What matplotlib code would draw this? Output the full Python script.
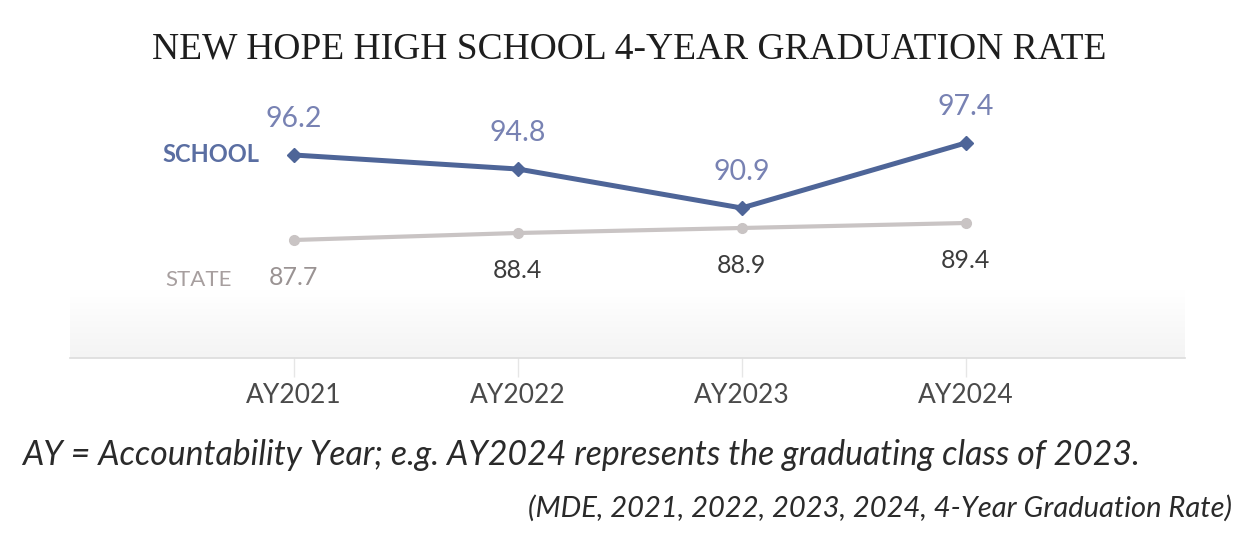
import matplotlib
matplotlib.use("Agg")
import numpy as np
import matplotlib.pyplot as plt

years = ["AY2021", "AY2022", "AY2023", "AY2024"]
school = [96.2, 94.8, 90.9, 97.4]
state = [87.7, 88.4, 88.9, 89.4]
state_label_colors = ["#9a9393", "#3c3c3c", "#3c3c3c", "#3c3c3c"]

title = "NEW HOPE HIGH SCHOOL 4-YEAR GRADUATION RATE"
note = "AY = Accountability Year; e.g. AY2024 represents the graduating class of 2023."
source = "(MDE, 2021, 2022, 2023, 2024, 4-Year Graduation Rate)"

W, H = 1257, 544
fig = plt.figure(figsize=(W / 100, H / 100), dpi=100)
fig.patch.set_facecolor("white")

left, right, top, bottom = 70, 1185, 100, 358
ax = fig.add_axes([left / W, 1 - bottom / H, (right - left) / W, (bottom - top) / H])
ax.set_facecolor("none")

# subtle gray band near bottom of plot area (white at top -> light gray at bottom)
grad = np.linspace(0.0, 1.0, 64).reshape(-1, 1)
ax.imshow(grad, extent=(0, 1, 0, 0.26), transform=ax.transAxes, aspect="auto",
          cmap=matplotlib.colors.LinearSegmentedColormap.from_list(
              "g", ["#ffffff", "#f4f4f4"]), zorder=0, interpolation="bicubic")

x = list(range(len(years)))
school_color = "#4e6598"
state_color = "#c9c4c4"

ax.plot(x, state, color=state_color, lw=3.0, marker="o", ms=7, zorder=2,
        solid_capstyle="round")
ax.plot(x, school, color=school_color, lw=3.6, marker="D", ms=7.5, zorder=3,
        solid_capstyle="round")

label_font = "Lato"
for xi, v in zip(x, school):
    ax.annotate(f"{v:.1f}", (xi, v), xytext=(0, 26), textcoords="offset points",
                ha="center", va="center", fontsize=20.5, color="#7882b3",
                family=label_font)
for xi, v, c in zip(x, state, state_label_colors):
    ax.annotate(f"{v:.1f}", (xi, v), xytext=(0, -27), textcoords="offset points",
                ha="center", va="center", fontsize=18, color=c,
                family=label_font)

ax.set_xlim(-1.0, 3.98)
ax.set_ylim(75.9, 101.7)

for s in ["top", "right", "left"]:
    ax.spines[s].set_visible(False)
ax.spines["bottom"].set_color("#dcdcdc")
ax.spines["bottom"].set_linewidth(1.2)
ax.set_yticks([])
ax.set_xticks(x)
ax.set_xticklabels(years, fontsize=19, color="#4a4a4a", family=label_font)
ax.tick_params(axis="x", length=14, width=1, color="#e6e6e6", pad=4)

# series name labels
ax.annotate("SCHOOL", (0, school[0]), xytext=(-25, 0), textcoords="offset points",
            ha="right", va="center", fontsize=17, fontweight="bold",
            color="#5a6ea2", family=label_font)
ax.annotate("STATE", (0, state[0]), xytext=(-45, -29), textcoords="offset points",
            ha="right", va="center", fontsize=16, color="#a79f9f",
            family=label_font)

fig.text(629 / W, 1 - 49 / H, title, ha="center", va="center", fontsize=27,
         family="Liberation Serif", color="#1e1e1e")
fig.text(22 / W, 1 - 455 / H, note, ha="left", va="center", fontsize=24.3,
         style="italic", family=label_font, color="#2a2a2a")
fig.text(1232 / W, 1 - 508 / H, source, ha="right", va="center", fontsize=21,
         style="italic", family=label_font, color="#2a2a2a")

fig.savefig("out.png", dpi=100)
